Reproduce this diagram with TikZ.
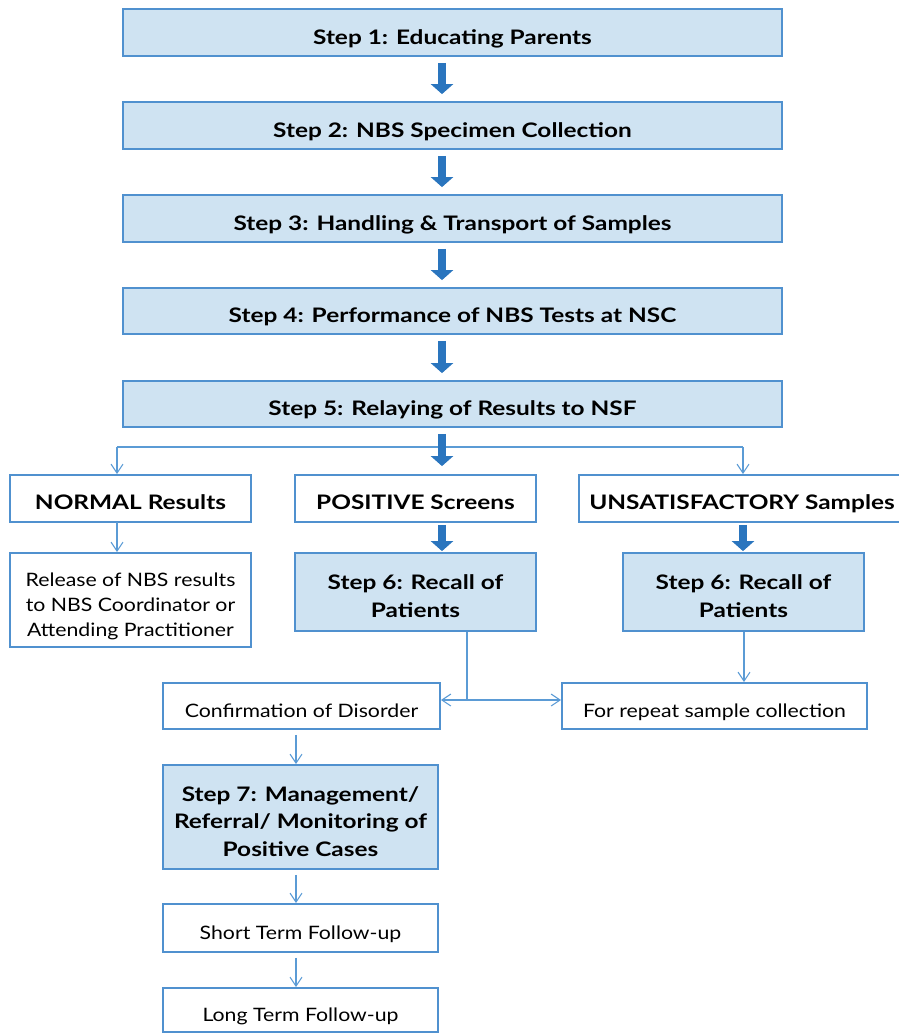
\documentclass[tikz,border=0pt]{standalone}
\usepackage{fontspec}
\setmainfont{Lato}[FakeStretch=1.15, BoldFeatures={FakeStretch=1.22}]
\usetikzlibrary{arrows.meta,calc}
\definecolor{boxline}{HTML}{5091CF}
\definecolor{boxfill}{HTML}{CFE3F2}
\definecolor{bigarrow}{HTML}{2A75BE}
\definecolor{thinline}{HTML}{5B9BD5}
% line struts: the first line gets extra room on top so the text sits a little low
\newcommand\lstrut{\rule[-0.3\baselineskip]{0pt}{\baselineskip}}
\newcommand\firstln{\rule{0pt}{\dimexpr0.7\baselineskip+12pt\relax}}
\tikzset{
  basebox/.style={draw=boxline, line width=1.8pt, inner sep=0pt, align=center, text=black},
  stepbox/.style={basebox, fill=boxfill, font=\fontsize{20}{27.5}\selectfont\bfseries},
  headbox/.style={basebox, fill=white, font=\fontsize{20}{27}\selectfont\bfseries},
  plainbox/.style={basebox, fill=white, font=\fontsize{18.5}{25}\selectfont},
  bigflow/.style={draw=bigarrow, line width=8pt, -{Triangle[width=22pt,length=10pt]}},
  link/.style={draw=thinline, line width=1.3pt},
  linkarrow/.style={link, -{Straight Barb[length=9pt,width=12pt,line width=1.1pt]}}
}
\begin{document}
\begin{tikzpicture}[x=1pt,y=-1pt]
\useasboundingbox (0,0) rectangle (899,1034);
\clip (0,0) rectangle (899,1034);

% main sequence of steps
\node[stepbox, minimum width=659, minimum height=47] (s1) at (452.5,32.5) {\firstln Step 1: Educating Parents\lstrut};
\node[stepbox, minimum width=659, minimum height=47] (s2) at (452.5,125.5) {\firstln Step 2: NBS Specimen Collection\lstrut};
\node[stepbox, minimum width=659, minimum height=47] (s3) at (452.5,218.5) {\firstln Step 3: Handling \& Transport of Samples\lstrut};
\node[stepbox, minimum width=659, minimum height=46] (s4) at (452.5,311) {\firstln Step 4: Performance of NBS Tests at NSC\lstrut};
\node[stepbox, minimum width=659, minimum height=46] (s5) at (452.5,404) {\firstln Step 5: Relaying of Results to NSF\lstrut};

% three result categories
\node[headbox, minimum width=241, minimum height=47] (normal) at (130.5,498.5) {\firstln NORMAL Results\lstrut};
\node[headbox, minimum width=241, minimum height=47] (positive) at (415.5,498.5) {\firstln POSITIVE Screens\lstrut};
\node[headbox, minimum width=326, minimum height=47] (unsat) at (742,498.5) {\firstln UNSATISFACTORY Samples\lstrut};

% follow-up actions
\node[plainbox, minimum width=241, minimum height=94] (release) at (130.5,600)
  {\firstln Release of NBS results\lstrut\\to NBS Coordinator or\lstrut\\Attending Practitioner\lstrut};
\node[stepbox, minimum width=241, minimum height=78] (recallA) at (415.5,592) {\firstln Step 6: Recall of\lstrut\\Patients\lstrut};
\node[stepbox, minimum width=241, minimum height=78] (recallB) at (743.5,592) {\firstln Step 6: Recall of\lstrut\\Patients\lstrut};
\node[plainbox, minimum width=277, minimum height=46] (confirm) at (301.5,706) {\firstln Confirmation of Disorder\lstrut};
\node[plainbox, minimum width=305, minimum height=46] (repeat) at (714.5,706) {\firstln For repeat sample collection\lstrut};
\node[stepbox, minimum width=275, minimum height=104] (step7) at (300.5,817)
  {\firstln Step 7: Management/\lstrut\\Referral/ Monitoring of\lstrut\\Positive Cases\lstrut};
\node[plainbox, minimum width=275, minimum height=48] (short) at (300.5,928) {\firstln Short Term Follow-up\lstrut};
\node[plainbox, minimum width=275, minimum height=44] (long) at (300.5,1010) {\firstln Long Term Follow-up\lstrut};

% branch coordinates
\coordinate (brL) at (117,447);
\coordinate (brR) at (743,447);
\coordinate (split) at (467,700);

% thin branching connectors (drawn below the thick arrows)
\draw[link] (brL) -- (brR);
\draw[linkarrow] (brL) -- (brL |- normal.north);
\draw[linkarrow] (brR) -- (brR |- unsat.north);
\draw[linkarrow] ([yshift=1]normal.south -| brL) -- (release.north -| brL);
\draw[link] (recallA.south -| split) -- (split);
\draw[linkarrow] (split) -- (split -| confirm.east);
\draw[linkarrow] (split) -- (split -| repeat.west);
\draw[linkarrow] (recallB.south -| 744,0) -- (repeat.north -| 744,0);
\draw[linkarrow] ($(confirm.south -| 296,0)+(0,5)$) -- (step7.north -| 296,0);
\draw[linkarrow] ($(step7.south -| 296,0)+(0,5)$) -- (short.north -| 296,0);
\draw[linkarrow] ($(short.south -| 296,0)+(0,5)$) -- (long.north -| 296,0);

% thick arrows between steps
\foreach \a/\b in {s1/s2, s2/s3, s3/s4, s4/s5}{
  \draw[bigflow] ($(\a.south -| 442,0)+(0,6)$) -- ($(\b.north -| 442,0)+(0,-7)$);
}
\draw[bigflow] ($(s5.south -| 442,0)+(0,6)$) -- ($(positive.north -| 442,0)+(0,-8)$);
\draw[bigflow] ($(positive.south -| 442,0)+(0,2)$) -- ($(recallA.north -| 442,0)+(0,-1)$);
\draw[bigflow] ($(unsat.south -| 743,0)+(0,2)$) -- ($(recallB.north -| 743,0)+(0,-1)$);
\end{tikzpicture}
\end{document}
